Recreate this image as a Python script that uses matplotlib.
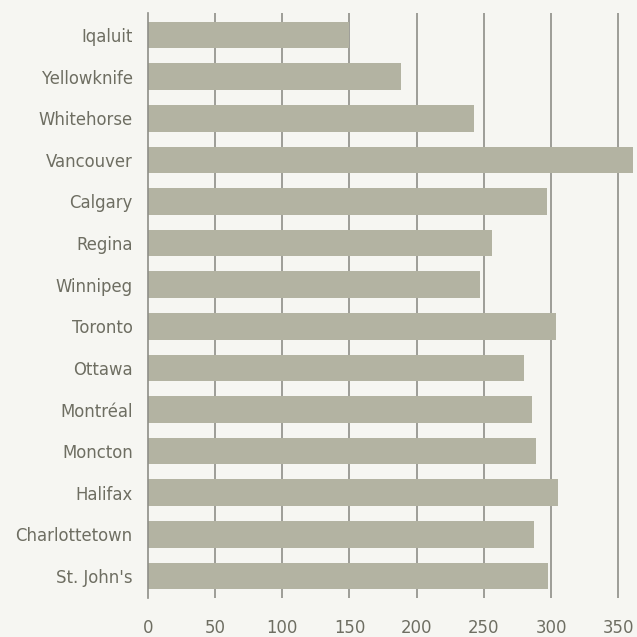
import matplotlib
matplotlib.use("Agg")
import matplotlib.pyplot as plt

cities = ["Iqaluit", "Yellowknife", "Whitehorse", "Vancouver", "Calgary", "Regina",
          "Winnipeg", "Toronto", "Ottawa", "Montréal", "Moncton", "Halifax",
          "Charlottetown", "St. John's"]
values = [150, 188, 243, 361, 297, 256, 247, 304, 280, 286, 289, 305, 287, 298]
xticks = [0, 50, 100, 150, 200, 250, 300, 350]

bg = "#f6f6f2"
bar_color = "#b3b3a2"
text_color = "#6e6e62"
grid_color = "#8e8e88"

fig = plt.figure(figsize=(6.37, 6.37), dpi=100, facecolor=bg)
ax = fig.add_axes([0.2323, 0.0612, 0.7677, 0.9184])
ax.set_facecolor(bg)

y = list(range(len(cities)))
ax.barh(y, values, height=0.64, color=bar_color, zorder=2)

ax.set_xlim(0, 364)
ax.set_ylim(len(cities) - 1 + 0.53, -0.53)
ax.set_yticks(y)
ax.set_yticklabels(cities)
ax.set_xticks(xticks)
ax.set_xticklabels([str(t) for t in xticks])

for t in xticks[1:]:
    ax.axvline(t, color=grid_color, lw=1.2, zorder=1)

for s in ["top", "right", "bottom"]:
    ax.spines[s].set_visible(False)
ax.spines["left"].set_color(grid_color)
ax.spines["left"].set_linewidth(1.2)
ax.spines["left"].set_zorder(3)

ax.tick_params(axis="both", length=0, colors=text_color, labelsize=11.9)
ax.tick_params(axis="y", pad=11)
ax.tick_params(axis="x", pad=15)

fig.savefig("out.png", dpi=100, facecolor=bg)
